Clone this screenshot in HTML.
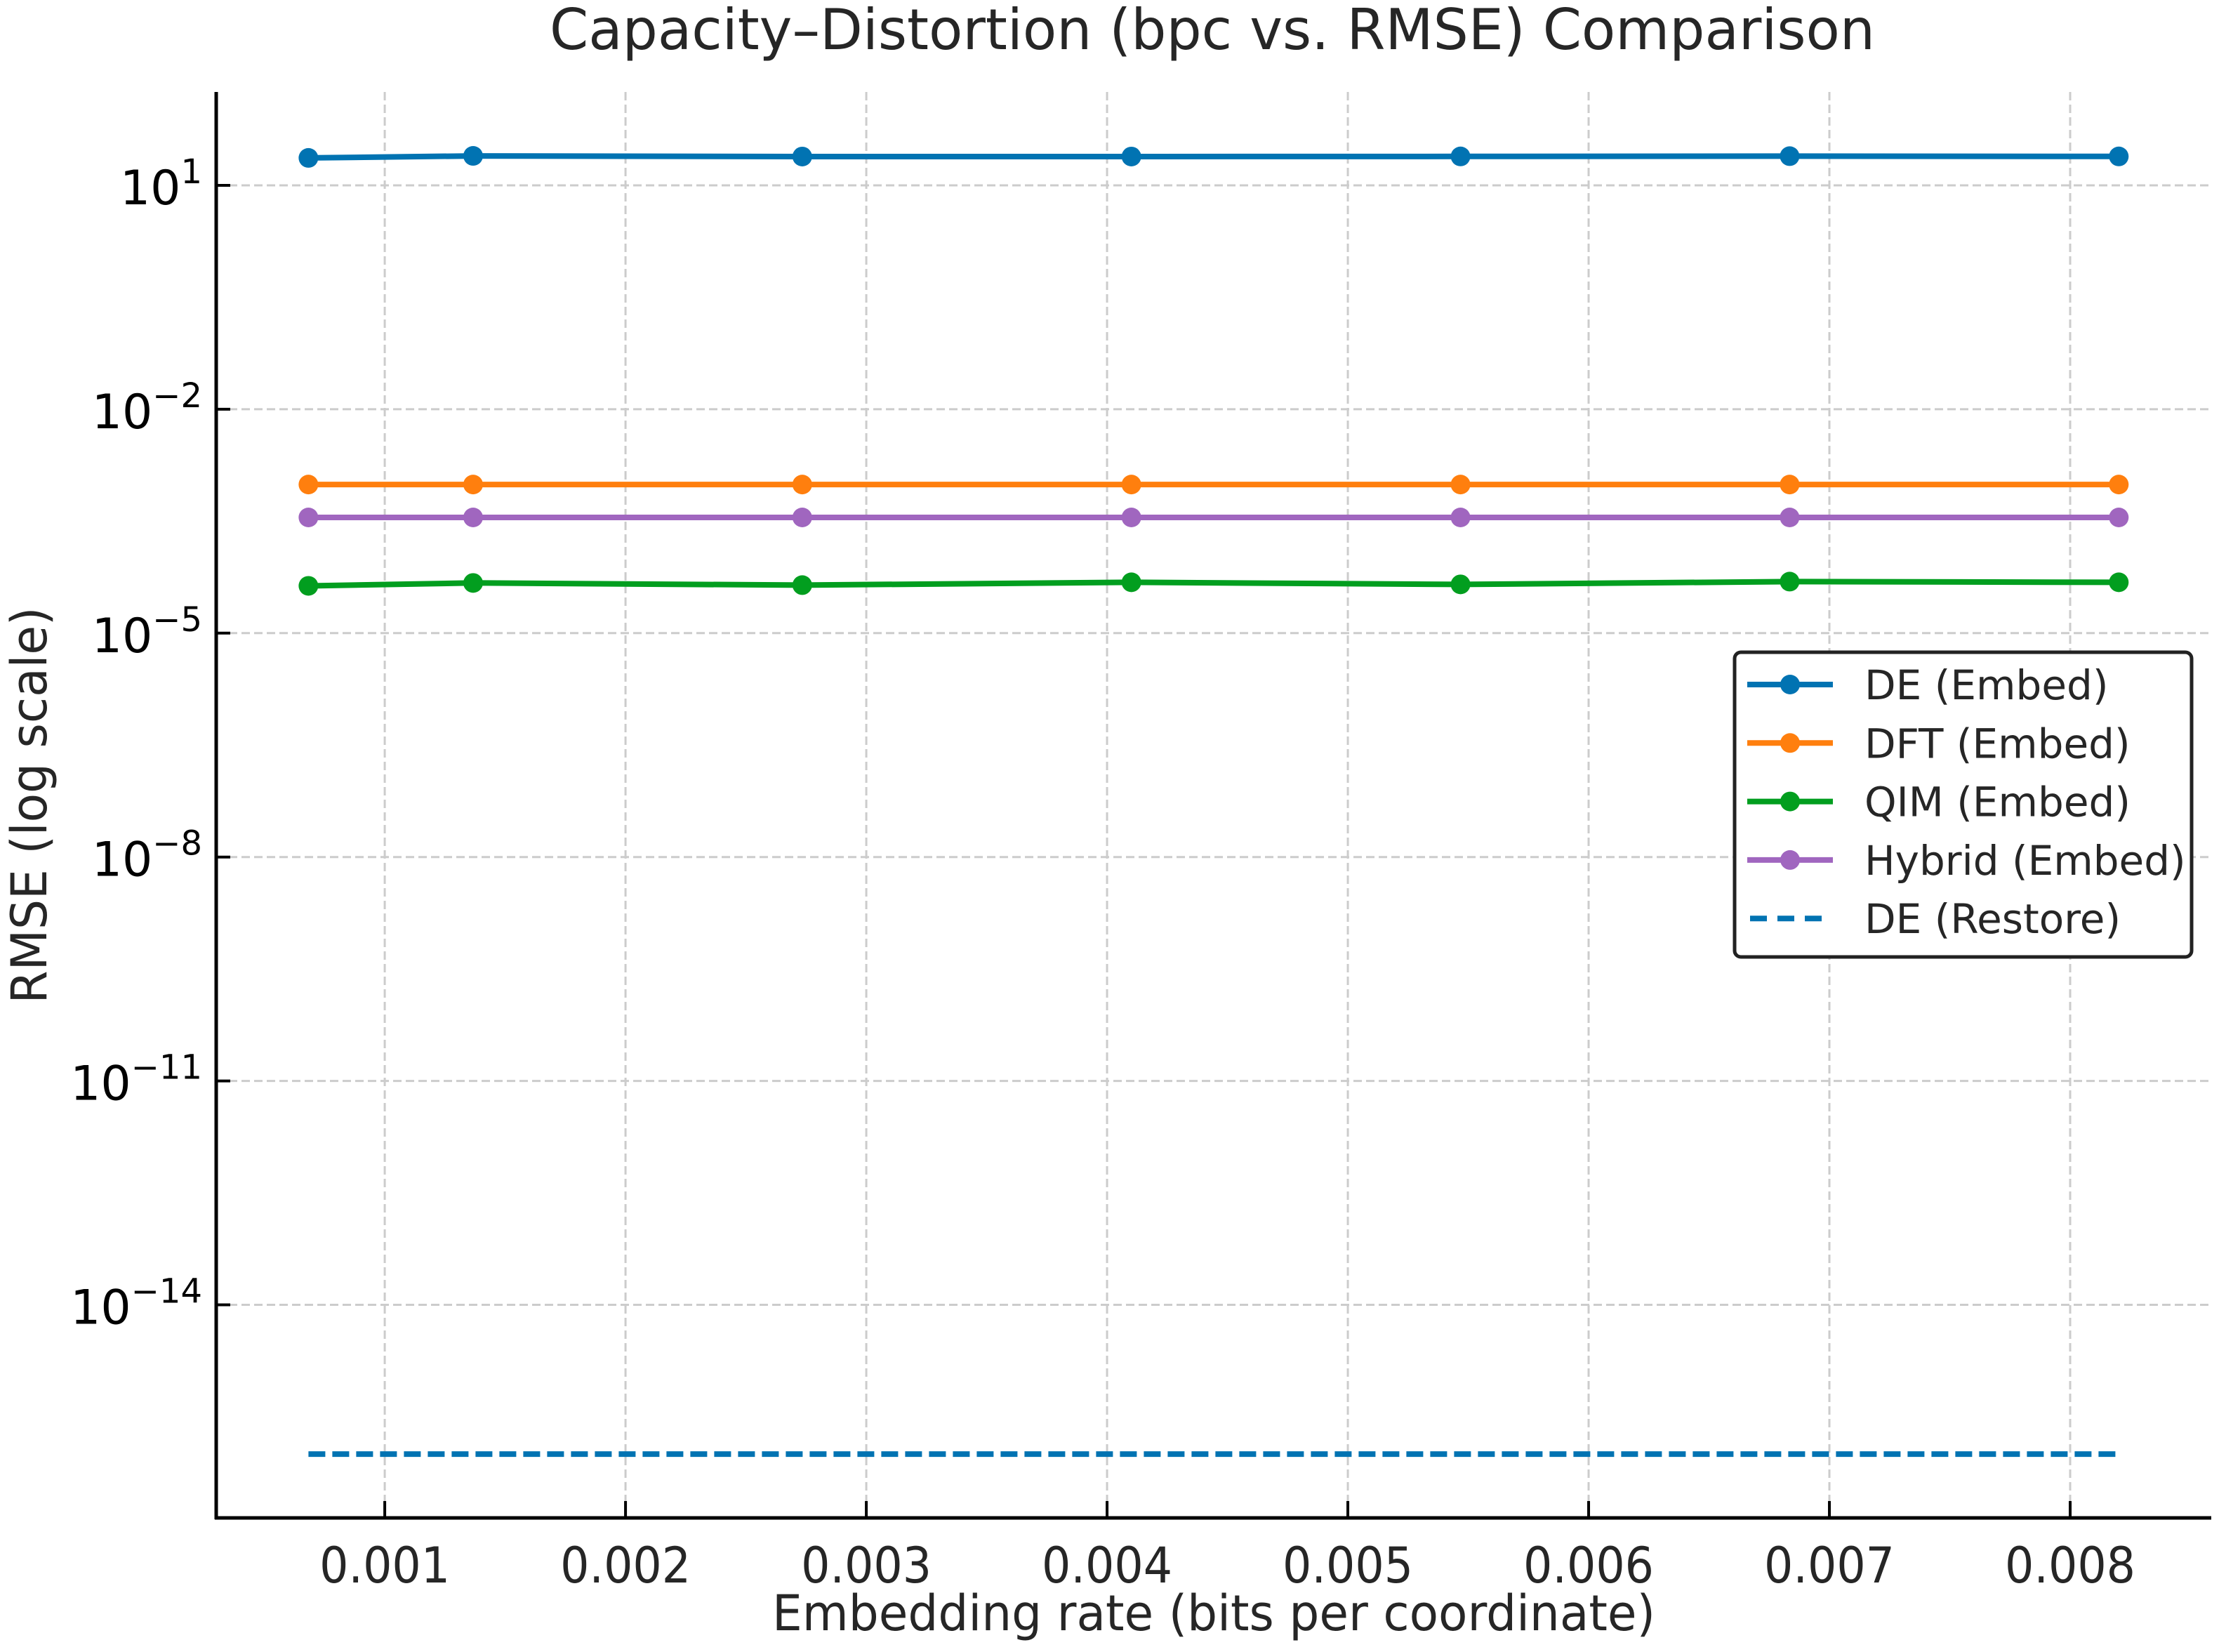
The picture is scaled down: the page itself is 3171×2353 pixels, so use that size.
<!DOCTYPE html>
<html><head><meta charset="utf-8"><style>html,body{margin:0;padding:0;background:#fff}svg{display:block}</style></head>
<body>
<svg id="chart" xmlns="http://www.w3.org/2000/svg" width="3171" height="2353" viewBox="0 0 3171 2353" font-family="DejaVu Sans, Liberation Sans, sans-serif">
<rect width="3171" height="2353" fill="#fff"/>
<text x="1727" y="70" font-size="80" fill="#262626" text-anchor="middle" textLength="1888" lengthAdjust="spacingAndGlyphs">Capacity–Distortion (bpc vs. RMSE) Comparison</text>
<g id="grid"></g>
<g id="series"></g>
<g id="axes"></g>
<text x="1729" y="2322" font-size="70" fill="#262626" text-anchor="middle" textLength="1258" lengthAdjust="spacingAndGlyphs">Embedding rate (bits per coordinate)</text>
<text transform="translate(66,1147) rotate(-90)" font-size="70" fill="#262626" text-anchor="middle" textLength="565" lengthAdjust="spacingAndGlyphs">RMSE (log scale)</text>
<g id="legend"></g>
</svg>
<script>
const xValues = [0.000683, 0.001367, 0.002734, 0.004101, 0.005468, 0.006835, 0.008202];
const deEmbed = [23.3, 24.8, 24.3, 24.3, 24.4, 24.6, 24.4];
const dftEmbed = [0.00098, 0.00098, 0.00098, 0.00098, 0.00098, 0.00098, 0.00098];
const qimEmbed = [4.3e-5, 4.7e-5, 4.4e-5, 4.8e-5, 4.5e-5, 4.9e-5, 4.8e-5];
const hybridEmbed = [3.55e-4, 3.55e-4, 3.55e-4, 3.55e-4, 3.55e-4, 3.55e-4, 3.55e-4];
const deRestore = [1e-16, 1e-16, 1e-16, 1e-16, 1e-16, 1e-16, 1e-16];
const xTicks = [0.001, 0.002, 0.003, 0.004, 0.005, 0.006, 0.007, 0.008];
const xTickLabels = ["0.001","0.002","0.003","0.004","0.005","0.006","0.007","0.008"];
const yTickExps = [1, -2, -5, -8, -11, -14];
const seriesNames = ["DE (Embed)","DFT (Embed)","QIM (Embed)","Hybrid (Embed)","DE (Restore)"];

const NS = "http://www.w3.org/2000/svg";
const L = 308, R = 3150, T = 131, B = 2162;
const X0 = 0.0003, X1 = 0.008586, LY0 = -16.855, LY1 = 2.251;
function sx(v){ return L + (v - X0) / (X1 - X0) * (R - L); }
function sy(v){ const l = Math.log10(v); return B - (l - LY0) / (LY1 - LY0) * (B - T); }
function mk(tag, attrs, parent){ const e = document.createElementNS(NS, tag); for (const k in attrs) e.setAttribute(k, attrs[k]); parent.appendChild(e); return e; }

const grid = document.getElementById('grid');
const axes = document.getElementById('axes');
xTicks.forEach((t, i) => {
  const x = sx(t);
  const g = mk('line', {x1:x, x2:x, y1:T, y2:B, stroke:'#cccccc', 'stroke-width':3, 'stroke-dasharray':'12 6'}, grid);
  
  
  const tk = mk('line', {x1:x, x2:x, y1:B, y2:B-24, stroke:'#000', 'stroke-width':4}, axes);
  
  
  const tl = mk('text', {x:x, y:B+92, 'font-size':70, fill:'#262626', 'text-anchor':'middle', textLength:186, lengthAdjust:'spacingAndGlyphs'}, axes);
  tl.textContent = xTickLabels[i];
  
  
});
yTickExps.forEach(e => {
  const y = sy(Math.pow(10, e));
  const g = mk('line', {x1:L, x2:R, y1:y, y2:y, stroke:'#cccccc', 'stroke-width':3, 'stroke-dasharray':'12 6'}, grid);
  
  
  const tk = mk('line', {x1:L, x2:L+20, y1:y, y2:y, stroke:'#000', 'stroke-width':4}, axes);
  
  
  const tl = mk('text', {x:L-20, y:y+27, 'font-size':68, fill:'#000', 'text-anchor':'end'}, axes);
  
  
  const base = document.createElementNS(NS, 'tspan'); base.textContent = '10'; tl.appendChild(base);
  const sup = document.createElementNS(NS, 'tspan');
  sup.setAttribute('font-size', 48); sup.setAttribute('dy', -30);
  sup.textContent = e < 0 ? '\u2212' + (-e) : String(e);
  tl.appendChild(sup);
});
const sl = mk('line', {x1:L, x2:L, y1:T, y2:B+2, stroke:'#000', 'stroke-width':5}, axes);


const sb = mk('line', {x1:L-2, x2:R, y1:B, y2:B, stroke:'#000', 'stroke-width':5}, axes);



const seriesData = [deEmbed, dftEmbed, qimEmbed, hybridEmbed, deRestore];
const colors = ['#0173b2', '#ff7f0e', '#029e1f', '#a066bf', '#0173b2'];
const ids = ['de-embed', 'dft-embed', 'qim-embed', 'hybrid-embed', 'de-restore'];
const sg = document.getElementById('series');
[0, 1, 3, 2, 4].forEach(si => {
  const vals = seriesData[si];
  const pts = vals.map((v, i) => sx(xValues[i]).toFixed(1) + ',' + sy(v).toFixed(1)).join(' ');
  const dashed = si === 4;
  const pl = mk('polyline', {points:pts, fill:'none', stroke:colors[si], 'stroke-width':8, 'stroke-dasharray':dashed ? '24 10' : 'none'}, sg);
  
  
  if (!dashed) vals.forEach((v, i) => {
    const c = mk('circle', {cx:sx(xValues[i]), cy:sy(v), r:14, fill:colors[si]}, sg);
    
    
  });
});

const lg = document.getElementById('legend');
const box = mk('rect', {x:2471, y:929, width:651, height:434, rx:9, fill:'#fff', stroke:'#222', 'stroke-width':5}, lg);


seriesNames.forEach((n, i) => {
  const y = 975 + i * 83.3;
  const dashed = i === 4;
  const ln = mk('line', {x1:dashed ? 2493 : 2489, x2:dashed ? 2600 : 2611, y1:y, y2:y, stroke:colors[i], 'stroke-width':8, 'stroke-dasharray':dashed ? '24 15' : 'none'}, lg);
  
  
  if (!dashed) { const c = mk('circle', {cx:2550, cy:y, r:14, fill:colors[i]}, lg);   }
  const t = mk('text', {x:2656, y:y + 21, 'font-size':58, fill:'#262626'}, lg);
  t.textContent = n;
  
  
});
</script>
</body></html>
